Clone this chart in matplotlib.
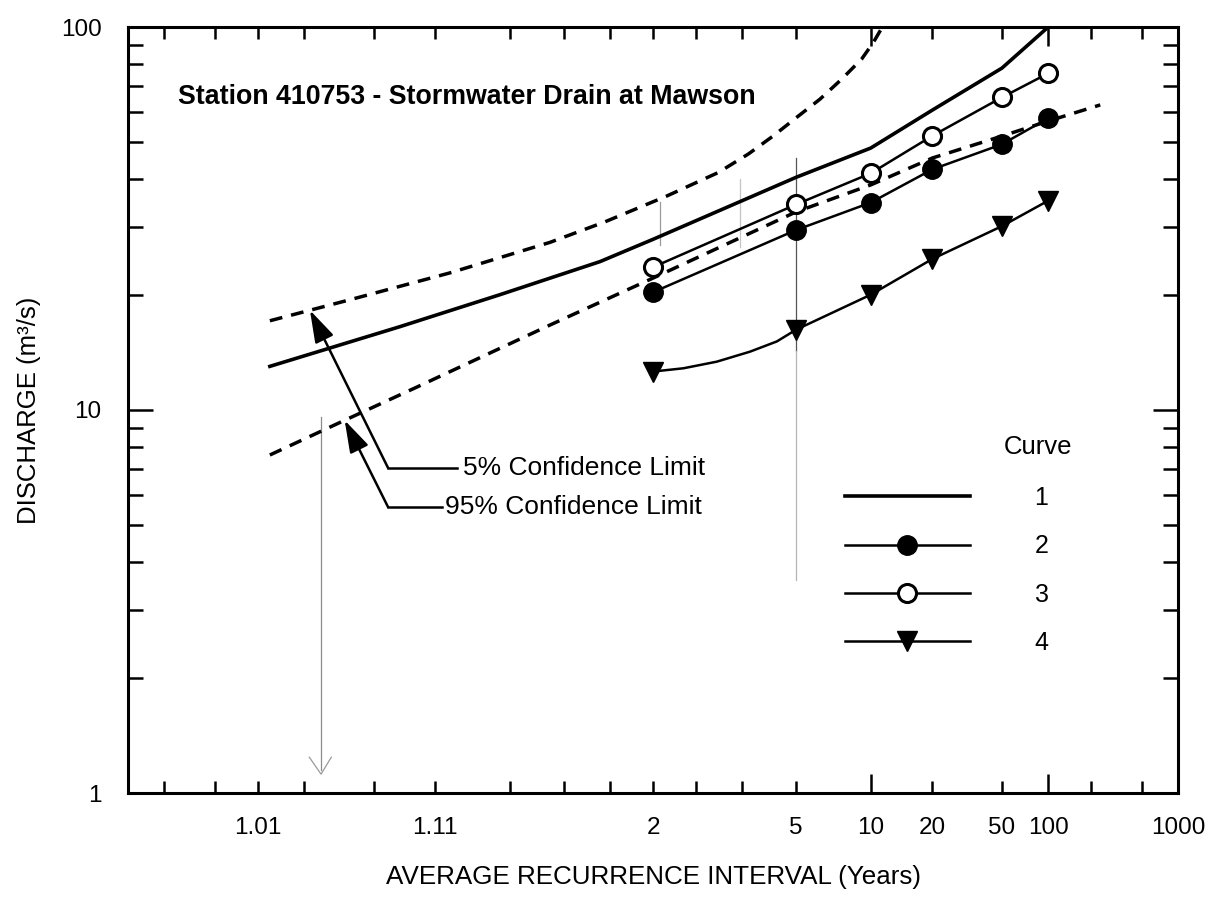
import math
from statistics import NormalDist

import numpy as np
import matplotlib
matplotlib.use('Agg')
import matplotlib.pyplot as plt
from matplotlib.ticker import FixedLocator, FixedFormatter, NullFormatter

plt.rcParams['font.family'] = ['Liberation Sans', 'DejaVu Sans']

# flood frequency data, ARI in years, discharge in m3/s
ari_pts = [2, 5, 10, 20, 50, 100]
q_curve2 = [20.3, 29.5, 34.8, 42.5, 49.4, 57.8]
q_curve3 = [23.6, 34.4, 41.5, 52.0, 65.5, 75.7]
q_curve4 = [12.6, 16.2, 20.0, 24.8, 30.2, 35.2]

# curve 4 line bends between the 2 and 5 year points
ari_c4_line = [2, 2.33, 2.826, 3.52, 4.29, 5, 10, 20, 50, 100]
q_c4_line = [12.6, 12.85, 13.37, 14.2, 15.1, 16.2, 20.0, 24.8, 30.2, 35.2]

# curve 1 (fitted, no markers)
ari_c1 = [1.0122, 1.073, 1.225, 1.606, 2, 5, 10, 20, 50, 100]
q_c1 = [13.0, 16.5, 20.0, 24.4, 27.9, 40.5, 48.3, 60.7, 78.1, 100]

# confidence limits
ari_upper = [1.0122, 1.0386, 1.131, 1.374, 1.636, 2.138, 2.855, 3.48, 4.18,
             5.03, 6.14, 7.50, 9.12, 10.28, 11.3]
q_upper = [17.1, 19.4, 22.8, 27.4, 31.0, 36.2, 41.7, 46.6, 52.0,
           58.1, 64.8, 73.1, 82.5, 91.2, 100]
ari_lower = [1.0122, 1.036, 1.0897, 1.374, 2, 5, 10, 20, 50, 100, 236]
q_lower = [7.63, 9.4, 11.48, 16.67, 22.1, 32.9, 38.7, 45.5, 51.9, 56.8, 62.6]

# probability paper ticks (annual exceedance probability, %)
aep_ticks = [99.8, 99.5, 99, 98, 95, 90, 80, 70, 60, 50, 40, 30, 20, 5, 2, 0.5, 0.2, 0.1]
aep_labels = ['', '', '1.01', '', '', '1.11', '', '', '', '2', '', '', '5', '20', '50', '', '', '1000']
ari_long = [10, 100]

# pencil marks on the sheet: (ari, q_from, q_to, colour)
pencil_lines = [(1.026, 1.15, 9.6, '#8c8c8c'),
                (5, 14.3, 45.5, '#555555'),
                (5, 3.6, 14.3, '#b5b5b5'),
                (2.07, 27.0, 35.0, '#9a9a9a'),
                (3.29, 26.7, 40.0, '#c4c4c4')]
pencil_tick_ari = [1.022, 1.026, 1.030]
pencil_tick_q = [1.24, 1.12, 1.24]

_nd = NormalDist()
_ppf = np.vectorize(_nd.inv_cdf, otypes=[float])
_cdf = np.vectorize(_nd.cdf, otypes=[float])


def ari_to_z(t):
    t = np.asarray(t, dtype=float)
    p = 1.0 - 1.0 / np.clip(t, 1.0 + 1e-9, 1e12)
    return _ppf(np.clip(p, 1e-9, 1 - 1e-12))


def z_to_ari(z):
    z = np.clip(np.asarray(z, dtype=float), -8, 7)
    return 1.0 / (1.0 - _cdf(z))


def on_curve(t, ts, qs):
    return 10 ** np.interp(ari_to_z(t), ari_to_z(ts), np.log10(qs))


fig = plt.figure(figsize=(12.17, 9.06), dpi=100)
ax = fig.add_axes([128 / 1217, 113 / 906, 1050 / 1217, 766 / 906])
ax.set_xscale('function', functions=(ari_to_z, z_to_ari))
ax.set_yscale('log')

for t, qa, qb, c in pencil_lines:
    ax.plot([t, t], [qa, qb], color=c, lw=0.9, zorder=1)
ax.plot(pencil_tick_ari, pencil_tick_q, color='#9a9a9a', lw=0.9, zorder=1)

dash = (3.7, 2.6)
ax.plot(ari_upper, q_upper, color='k', lw=2.5, dashes=dash, zorder=3)
ax.plot(ari_lower, q_lower, color='k', lw=2.5, dashes=dash, zorder=3)
l1, = ax.plot(ari_c1, q_c1, color='k', lw=2.6, zorder=3)

l2, = ax.plot(ari_pts, q_curve2, color='k', lw=1.8, marker='o', ms=14,
              mfc='k', mec='k', zorder=4)
l3, = ax.plot(ari_pts, q_curve3, color='k', lw=1.8, marker='o', ms=13,
              mfc='white', mec='k', mew=2.2, zorder=4)
ax.plot(ari_c4_line, q_c4_line, color='k', lw=1.8, zorder=4)
ax.plot(ari_pts, q_curve4, ls='none', marker='v', ms=14, color='k', zorder=4)
l4, = ax.plot([], [], color='k', lw=1.8, marker='v', ms=14)

ax.set_xlim(1.001, 1000)
ax.set_ylim(1, 100)

# x axis: long ticks at 10 and 100, short ticks elsewhere
ax.xaxis.set_major_locator(FixedLocator(ari_long))
ax.xaxis.set_major_formatter(FixedFormatter(['10', '100']))
ax.xaxis.set_minor_locator(FixedLocator([100.0 / a for a in aep_ticks]))
ax.xaxis.set_minor_formatter(FixedFormatter(aep_labels))
ax.tick_params(axis='x', which='major', length=14, width=1.8)
ax.tick_params(axis='x', which='minor', length=8.6, width=1.8)
ax.tick_params(axis='x', which='both', direction='in', top=True, bottom=True,
               labelsize=17.5, pad=17)

ax.yaxis.set_major_locator(FixedLocator([1, 10, 100]))
ax.yaxis.set_major_formatter(FixedFormatter(['1', '10', '100']))
ax.yaxis.set_minor_locator(FixedLocator([m * d for d in (1, 10) for m in range(2, 10)]))
ax.yaxis.set_minor_formatter(NullFormatter())
ax.tick_params(axis='y', which='major', length=18, width=1.8)
ax.tick_params(axis='y', which='minor', length=11, width=1.8)
ax.tick_params(axis='y', which='both', direction='in', left=True, right=True,
               labelsize=17.5, pad=19)

for sp in ax.spines.values():
    sp.set_linewidth(2.2)

ax.set_xlabel('AVERAGE RECURRENCE INTERVAL (Years)', fontsize=18.7)
ax.xaxis.set_label_coords(0.5, -0.094)
ax.set_ylabel('DISCHARGE (m³/s)', fontsize=18.5)
ax.yaxis.set_label_coords(-0.0829, 0.5)

ax.text(0.048, 0.909, 'Station 410753 - Stormwater Drain at Mawson',
        transform=ax.transAxes, fontsize=19.3, fontweight='bold', va='center')

# confidence limit call-outs
arrow = dict(arrowstyle='-|>,head_length=0.9,head_width=0.28', color='k', lw=1.8,
             mutation_scale=22, shrinkA=0, shrinkB=0)
tip_hi = 1.0222
tip_lo = 1.036
ax.annotate('', xy=(tip_hi, on_curve(tip_hi, ari_upper, q_upper)), xytext=(0.2476, 0.4246),
            textcoords='axes fraction', arrowprops=arrow, zorder=5)
ax.annotate('', xy=(tip_lo, on_curve(tip_lo, ari_lower, q_lower)), xytext=(0.2476, 0.3735),
            textcoords='axes fraction', arrowprops=arrow, zorder=5)
ax.plot([0.2476, 0.3133], [0.4246, 0.4246], color='k', lw=1.8, transform=ax.transAxes)
ax.plot([0.2476, 0.2990], [0.3735, 0.3735], color='k', lw=1.8, transform=ax.transAxes)
ax.text(0.319, 0.4246, '5% Confidence Limit', transform=ax.transAxes,
        fontsize=19, va='center', ha='left')
ax.text(0.302, 0.3735, '95% Confidence Limit', transform=ax.transAxes,
        fontsize=19, va='center', ha='left')

# legend
ax.text(0.8667, 0.4517, 'Curve', transform=ax.transAxes, fontsize=18.5,
        ha='center', va='center')
ax.legend([l1, l2, l3, l4], ['1', '2', '3', '4'], loc='upper left',
          bbox_to_anchor=(0.6705, 0.417), frameon=False, fontsize=18,
          handlelength=5.0, handletextpad=2.6, labelspacing=0.97, borderpad=0,
          numpoints=1)

fig.savefig('out.png', dpi=100)
